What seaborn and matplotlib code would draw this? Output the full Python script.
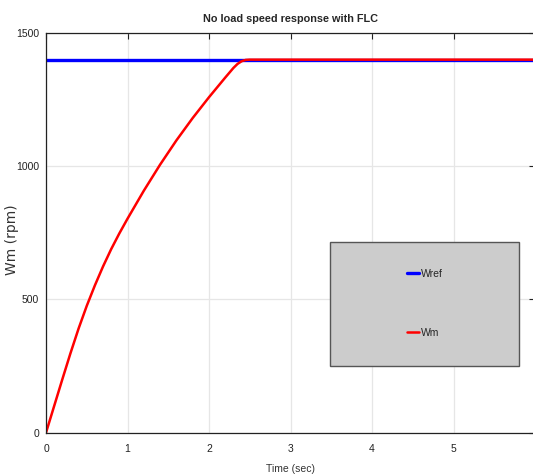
import numpy as np
import pandas as pd
import matplotlib
matplotlib.use("Agg")
import matplotlib.pyplot as plt
import matplotlib.font_manager as fm
from matplotlib.patches import Rectangle
import seaborn as sns

# speed reference and measured speed (rpm) vs time (sec)
time_ref = [0.0, 6.0]
wref = [1400, 1400]

time_m = [0.0, 0.1, 0.2, 0.3, 0.4, 0.5, 0.6, 0.7, 0.8, 0.9, 1.0,
          1.2, 1.4, 1.6, 1.8, 2.0, 2.2, 2.3, 2.35, 2.4, 2.45, 2.5, 6.0]
wm = [0, 100, 200, 298, 391, 476, 553, 624, 689, 748, 803,
      908, 1006, 1097, 1181, 1259, 1333, 1369, 1384, 1394, 1399, 1400, 1400]

x_ticks = [0, 1, 2, 3, 4, 5, 6]
y_ticks = [0, 500, 1000, 1500]

sns.set_style("white")
names = {f.name for f in fm.fontManager.ttflist}
narrow = "Liberation Sans Narrow" if "Liberation Sans Narrow" in names else "Liberation Sans"
plt.rcParams["font.family"] = [narrow, "DejaVu Sans"]

df = pd.concat([
    pd.DataFrame({"t": time_ref, "w": wref, "s": "Wref"}),
    pd.DataFrame({"t": time_m, "w": wm, "s": "Wm"}),
])

fig = plt.figure(figsize=(5.33, 4.75), dpi=100)
ax = fig.add_axes([46 / 533, 1 - 432.7 / 475, 489 / 533, 399.7 / 475])

sns.lineplot(data=df[df.s == "Wref"], x="t", y="w", color="#0000ff",
             linewidth=2.4, ax=ax, label="Wref")
sns.lineplot(data=df[df.s == "Wm"], x="t", y="w", color="#ff0000",
             linewidth=1.8, ax=ax, label="Wm")

ax.set_xlim(0, 6)
ax.set_ylim(0, 1500)
ax.set_xticks(x_ticks)
ax.set_yticks(y_ticks)
ax.grid(True, color="#e6e6e6", linewidth=0.9)
ax.set_axisbelow(True)
ax.tick_params(direction="in", length=4, width=0.8, colors="#222222",
               labelsize=7.5, top=True, right=True)
ax.tick_params(axis="x", pad=8)
ax.tick_params(axis="y", pad=5)
for s in ax.spines.values():
    s.set_color("#222222")
    s.set_linewidth(0.9)

ax.set_title("No load speed response with FLC", fontsize=7.8,
             fontweight="bold", pad=8)
ax.set_xlabel("Time (sec)", fontsize=7.5, color="#333333", labelpad=7)
ax.set_ylabel("Wm (rpm)", fontsize=10, color="#333333",
              family="DejaVu Sans")
ax.yaxis.set_label_coords(-0.056, 0.482)

# grey legend box
ax.add_patch(Rectangle((0.581, 0.168), 0.386, 0.31, transform=ax.transAxes,
                       facecolor="#cccccc", edgecolor="#555555",
                       linewidth=1.0, zorder=4))
leg = ax.legend(loc="center", bbox_to_anchor=(0.774, 0.323), frameon=False,
                handlelength=1.2, handletextpad=0.15, labelspacing=4.7,
                fontsize=7.5)
leg.set_zorder(5)

fig.savefig("out.png", dpi=100)
